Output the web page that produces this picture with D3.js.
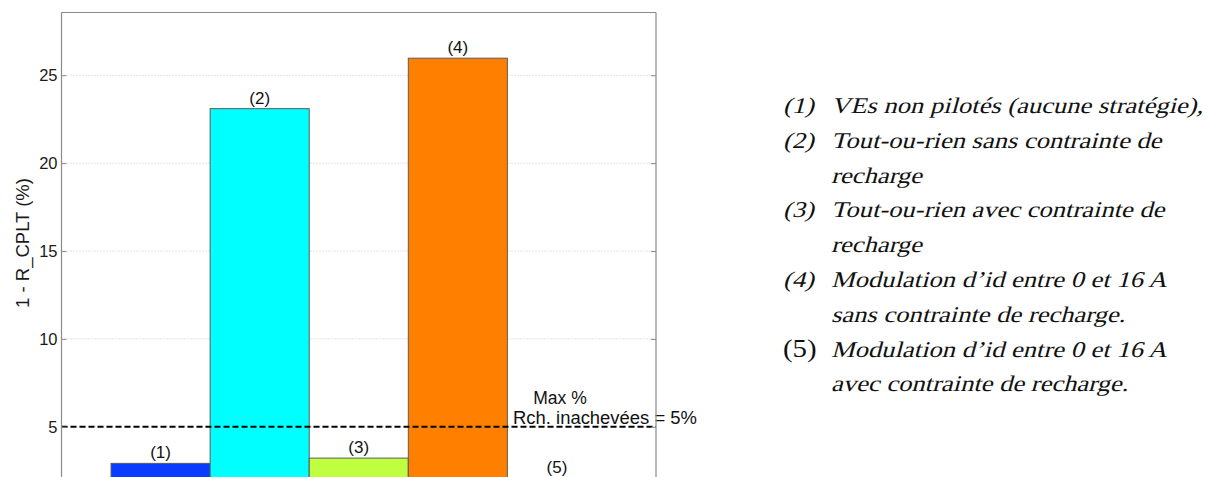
<!DOCTYPE html>
<html>
<head>
<meta charset="utf-8">
<script src="https://cdn.jsdelivr.net/npm/d3@7"></script>
<style>
  html, body { margin: 0; padding: 0; background: #fff; }
  svg { display: block; }
</style>
</head>
<body>
<svg id="chart" width="1212" height="477"></svg>
<script>
// ---- data ----
const categories = ["(1)", "(2)", "(3)", "(4)", "(5)"];
const values = [2.92, 23.1, 3.22, 25.97, 2.1];
const barColors = ["#0a3cff", "#00ffff", "#bfff40", "#ff8000", "#ff1a00"];
const yTicks = [5, 10, 15, 20, 25];
const threshold = 5;
const yLabel = "1 - R_CPLT (%)";
const thresholdText = ["Max %", "Rch. inachevées = 5%"];
const legendItems = [
  { num: "(1)", lines: ["VEs non pilotés (aucune stratégie),"], italicNum: true },
  { num: "(2)", lines: ["Tout-ou-rien sans contrainte de", "recharge"], italicNum: true },
  { num: "(3)", lines: ["Tout-ou-rien avec contrainte de", "recharge"], italicNum: true },
  { num: "(4)", lines: ["Modulation d’id entre 0 et 16 A", "sans contrainte de recharge."], italicNum: true },
  { num: "(5)", lines: ["Modulation d’id entre 0 et 16 A", "avec contrainte de recharge."], italicNum: false }
];

(function () {
const svg = d3.select("#chart");
const pLeft = 61.5, pRight = 656, pTop = 12.5, pBottom = 514.7;
const x = d3.scaleLinear().domain([0, categories.length + 1]).range([pLeft, pRight]);
const y = d3.scaleLinear().domain([0, 28.57]).range([pBottom, pTop]);

const axisFont = "'Liberation Sans', Arial, Helvetica, sans-serif";

// grid
svg.append("g").selectAll("line").data(yTicks).join("line")
  .attr("x1", pLeft).attr("x2", pRight)
  .attr("y1", d => y(d)).attr("y2", d => y(d))
  .attr("stroke", "#c8c8c8").attr("stroke-width", 1)
  .attr("stroke-dasharray", "1,2");

// bars
svg.append("g").selectAll("rect").data(values).join("rect")
  .attr("x", (d, i) => x(i + 0.5))
  .attr("width", (d, i) => x(i + 1.5) - x(i + 0.5))
  .attr("y", d => y(d))
  .attr("height", d => y(0) - y(d))
  .attr("fill", (d, i) => barColors[i])
  .attr("stroke", "#5a5a5a").attr("stroke-width", 1);

// bar labels
svg.append("g").selectAll("text").data(values).join("text")
  .attr("x", (d, i) => x(i + 1))
  .attr("y", d => y(d) - 5)
  .attr("text-anchor", "middle")
  .attr("font-family", axisFont).attr("font-size", 17)
  .attr("fill", "#111")
  .text((d, i) => categories[i]);

// threshold line
svg.append("line")
  .attr("x1", pLeft).attr("x2", pRight)
  .attr("y1", y(threshold)).attr("y2", y(threshold))
  .attr("stroke", "#000").attr("stroke-width", 2)
  .attr("stroke-dasharray", "6,3");

svg.append("text").attr("x", 560).attr("y", y(threshold) - 23)
  .attr("text-anchor", "middle")
  .attr("font-family", axisFont).attr("font-size", 17.5).attr("fill", "#111")
  .text(thresholdText[0]);
svg.append("text").attr("x", 513).attr("y", y(threshold) - 3)
  .attr("text-anchor", "start")
  .attr("font-family", axisFont).attr("font-size", 17.5).attr("fill", "#111")
  .attr("textLength", 184).attr("lengthAdjust", "spacingAndGlyphs")
  .text(thresholdText[1]);

// frame
const frameColor = "#8a8a8a";
svg.append("line").attr("x1", pLeft).attr("x2", pRight).attr("y1", pTop).attr("y2", pTop)
  .attr("stroke", frameColor).attr("stroke-width", 1.2);
svg.append("line").attr("x1", pLeft).attr("x2", pLeft).attr("y1", pTop).attr("y2", pBottom)
  .attr("stroke", frameColor).attr("stroke-width", 1.2);
svg.append("line").attr("x1", pRight).attr("x2", pRight).attr("y1", pTop).attr("y2", pBottom)
  .attr("stroke", frameColor).attr("stroke-width", 1.2);

// axes
const yAxisL = d3.axisLeft(y).tickValues(yTicks).tickSizeInner(-5).tickSizeOuter(0);
const gL = svg.append("g").attr("transform", `translate(${pLeft},0)`).call(yAxisL);
gL.select(".domain").remove();
gL.selectAll(".tick line").attr("stroke", frameColor);
gL.selectAll(".tick text").attr("font-family", axisFont).attr("font-size", 16.5).attr("fill", "#1a1a1a")
  .attr("x", -4);

const yAxisR = d3.axisRight(y).tickValues(yTicks).tickSizeInner(-5).tickSizeOuter(0).tickFormat("");
const gR = svg.append("g").attr("transform", `translate(${pRight},0)`).call(yAxisR);
gR.select(".domain").remove();
gR.selectAll(".tick line").attr("stroke", frameColor);

// y label
svg.append("text")
  .attr("transform", "translate(29,243) rotate(-90)")
  .attr("text-anchor", "middle")
  .attr("font-family", axisFont).attr("font-size", 18.5).attr("fill", "#1a1a1a")
  .text(yLabel);

// legend text (serif, slanted, slightly stretched horizontally like the reference)
const serif = "'Liberation Serif', 'Times New Roman', serif";
const stretch = 1.18;
let row = 0;
const lg = svg.append("g");
legendItems.forEach(item => {
  item.lines.forEach((ln, j) => {
    const by = 113 + row * 34.8;
    if (j === 0) {
      lg.append("text")
        .attr("transform", `translate(783,${by}) scale(${stretch},1)` + (item.italicNum ? " skewX(-13)" : ""))
        .attr("font-family", serif).attr("font-size", item.italicNum ? 22.5 : 24.5)
        .attr("fill", "#111").text(item.num);
    }
    lg.append("text")
      .attr("transform", `translate(831,${by}) scale(${stretch},1) skewX(-13)`)
      .attr("font-family", serif).attr("font-size", 22.5)
      .attr("fill", "#111").text(ln);
    row++;
  });
});
})();
</script>
</body>
</html>
